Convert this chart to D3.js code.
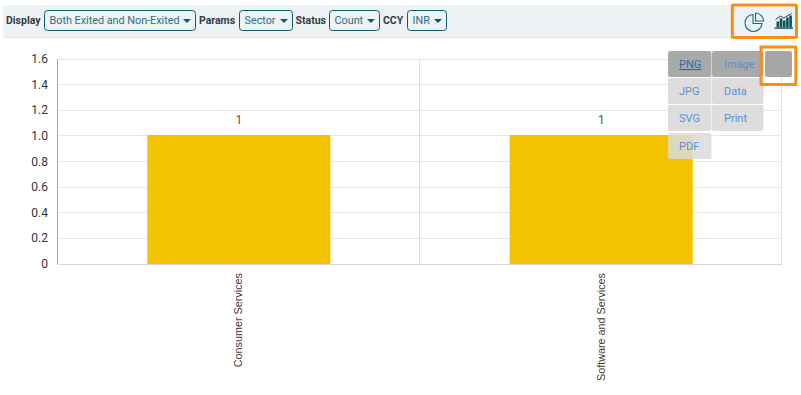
<!DOCTYPE html>
<html><head><meta charset="utf-8">
<script src="https://cdnjs.cloudflare.com/ajax/libs/d3/7.8.5/d3.min.js"></script>
<style>
html,body{margin:0;padding:0;background:#fff;overflow:hidden}
svg{display:block}
text{font-family:Roboto,sans-serif}
.grid line{shape-rendering:crispEdges}
</style></head><body>
<svg id="c" width="801" height="395"></svg>
<script>
const categories=["Consumer Services","Software and Services"];
const values=[1,1];
const yTicks=[0,0.2,0.4,0.6,0.8,1.0,1.2,1.4,1.6];
const yLabels=["0","0.2","0.4","0.6","0.8","1.0","1.2","1.4","1.6"];
const filters=[["Display","Both Exited and Non-Exited"],["Params","Sector"],["Status","Count"],["CCY","INR"]];
const menuItems=[["PNG",0,0,true],["Image",1,0,true],["JPG",0,1,false],["Data",1,1,false],["SVG",0,2,false],["Print",1,2,false],["PDF",0,3,false]];

const svg=d3.select("#c");
const x=d3.scaleBand().domain(categories).range([57.5,782.5]);
const y=d3.scaleLinear().domain([0,1.6]).range([264,59]);

// toolbar
svg.append("rect").attr("x",3).attr("y",5).attr("width",795).attr("height",32).attr("fill","#edf2f5");
svg.append("line").attr("x1",3).attr("x2",798).attr("y1",37.5).attr("y2",37.5).attr("stroke","#dfe3e6");
const filterX=[[6,44,152],[199,239,54],[295.5,329,51],[383,407,40]];
filters.forEach((f,i)=>{
  const [lx,bx,bw]=filterX[i];
  svg.append("text").attr("x",lx).attr("y",24).attr("font-size",10.5).attr("font-weight",700).attr("fill","#333c44").text(f[0]);
  svg.append("rect").attr("x",bx+.5).attr("y",10.5).attr("width",bw-1).attr("height",20).attr("rx",3).attr("fill","none").attr("stroke","#0b5d6b");
  svg.append("text").attr("x",bx+5.5).attr("y",24).attr("font-size",10.8).attr("fill","#2f6f7e").text(f[1]);
  const ax=bx+bw-4;
  svg.append("path").attr("d",`M${ax-9},19h8l-4,4z`).attr("fill","#0b5d6b");
});

// grid
const grid=svg.append("g").attr("class","grid");
grid.selectAll("line").data(yTicks).join("line")
  .attr("x1",57).attr("x2",782).attr("y1",d=>Math.floor(y(d))+.5).attr("y2",d=>Math.floor(y(d))+.5)
  .attr("stroke","#e6e6e6");
const bounds=[x(categories[1]),782];
svg.append("g").attr("class","grid").selectAll("line").data(bounds).join("line")
  .attr("x1",d=>Math.round(d)-.5).attr("x2",d=>Math.round(d)-.5).attr("y1",59).attr("y2",264).attr("stroke","#e0e0e0");
svg.append("line").attr("x1",57.5).attr("x2",57.5).attr("y1",59).attr("y2",265).attr("stroke","#a8a8a8");
svg.append("line").attr("x1",57).attr("x2",782).attr("y1",264.5).attr("y2",264.5).attr("stroke","#d8d8d8");

// bars
const bw=x.bandwidth()*0.505;
svg.selectAll(".bar").data(categories).join("rect").attr("class","bar")
  .attr("x",d=>x(d)+x.bandwidth()/2-bw/2).attr("width",bw)
  .attr("y",(d,i)=>Math.floor(y(values[i]))).attr("height",(d,i)=>y(0)-Math.floor(y(values[i]))).attr("fill","#f4c300");
svg.selectAll(".val").data(categories).join("text").attr("class","val")
  .attr("x",d=>x(d)+x.bandwidth()/2).attr("y",(d,i)=>y(values[i])-11.5).attr("text-anchor","middle")
  .attr("font-size",12).attr("fill","#555").text((d,i)=>values[i]);

// y axis
svg.selectAll(".yl").data(yTicks).join("text").attr("class","yl")
  .attr("x",48).attr("y",d=>y(d)+4).attr("text-anchor","end").attr("font-size",12).attr("fill","#333")
  .text((d,i)=>yLabels[i]);

// x labels
svg.selectAll(".xl").data(categories).join("text").attr("class","xl")
  .attr("transform",d=>`translate(${x(d)+x.bandwidth()/2+3.5},273) rotate(-90)`)
  .attr("text-anchor","end").style("font-family","Liberation Sans, Arial, sans-serif")
  .attr("font-size",10.8).attr("fill","#4a3a3a").text(d=>d);

// menu
const colX=[668,712], rowY=[51,78,105,133], bwid=[44,52], textX=[679,724];
menuItems.forEach(m=>{
  const rx=colX[m[1]], ry=rowY[m[2]];
  svg.append("rect").attr("x",rx).attr("y",ry).attr("width",bwid[m[1]]-.5).attr("height",26).attr("rx",2)
    .attr("fill",m[3]?"#a6a6a6":"#dcdcdc").attr("fill-opacity",m[2]===3?.85:.97);
  svg.append("text").attr("x",textX[m[1]]).attr("y",ry+17)
    .attr("font-size",11).attr("text-decoration",m[0]==="PNG"?"underline":null)
    .style("fill",m[0]==="PNG"?"#2f6aa8":"#5b8fd0").text(m[0]);
});
svg.append("rect").attr("x",765).attr("y",51).attr("width",27).attr("height",26).attr("rx",2).attr("fill","#a6a6a6");
svg.append("text").attr("x",778.5).attr("y",63).attr("text-anchor","middle").attr("font-size",10).attr("fill","#8a9bb5").text("...");

// orange boxes
svg.append("rect").attr("x",732.3).attr("y",5).attr("width",64.2).attr("height",32.5).attr("rx",1).attr("fill","none").attr("stroke","#f88f12").attr("stroke-width",3);
svg.append("path").attr("d","M761,47H795.8V84.5H761Z").attr("fill","none").attr("stroke","#f88f12").attr("stroke-width",3);

// pie icon
const pie=svg.append("g").attr("transform","translate(754,22)").attr("fill","none").attr("stroke","#0f7080").attr("stroke-width",1.1);
pie.append("path").attr("d","M-1,-7.5A8.5,8.5 0 1 0 8,1.5L-1,1.5Z");
pie.append("path").attr("d","M1.5,-9A8,8 0 0 1 9.5,-1L1.5,-1Z");
// chart icon
const ic=svg.append("g").attr("transform","translate(774.5,13.5)");
const barH=[6,9,7,10,12];
ic.selectAll("rect").data(barH).join("rect").attr("x",(d,i)=>2+i*3.2).attr("y",d=>14-d).attr("width",2.6).attr("height",d=>d).attr("fill","#0c4f5e");
ic.append("rect").attr("x",0).attr("y",14).attr("width",18.5).attr("height",1.3).attr("fill","#0c4f5e");
ic.append("path").attr("d","M1,6L6,2.5L9,4.5L17,0").attr("fill","none").attr("stroke","#0c4f5e").attr("stroke-width",1);
</script>
</body></html>
